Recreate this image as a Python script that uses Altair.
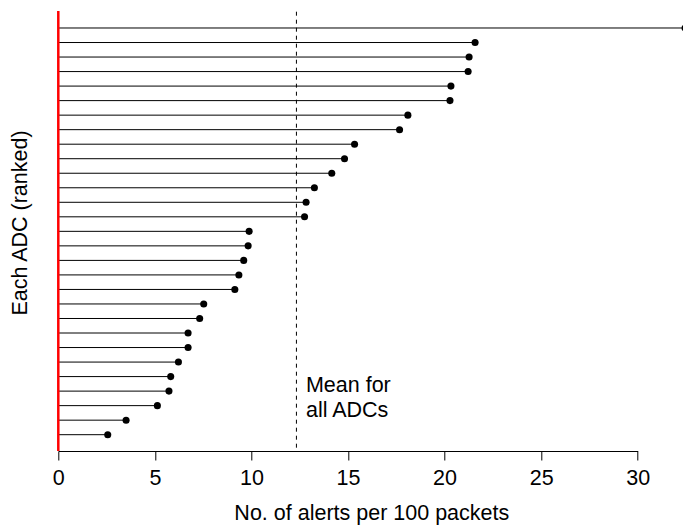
import altair as alt
import pandas as pd

# ---- data ----
ranks = list(range(1, 30))
alerts = [32.45, 21.58, 21.27, 21.22, 20.33, 20.28, 18.10, 17.67, 15.34, 14.82,
          14.16, 13.26, 12.83, 12.75, 9.88, 9.83, 9.60, 9.35, 9.14, 7.53,
          7.32, 6.72, 6.72, 6.22, 5.82, 5.73, 5.13, 3.51, 2.56]
mean_value = 12.33
x_ticks = [0, 5, 10, 15, 20, 25, 30]
x_title = "No. of alerts per 100 packets"
y_title = "Each ADC (ranked)"
mean_label = ["Mean for", "all ADCs"]

df = pd.DataFrame({"rank": ranks, "alerts": alerts, "start": [0.0] * len(ranks)})

FONT = "Liberation Sans"
FS = 21.5
W = 579.4
H = 440

xscale = alt.Scale(domain=[0, 30], nice=False, zero=False)
yscale = alt.Scale(domain=[-0.17, 30.123], reverse=True, nice=False, zero=False)

xaxis = alt.Axis(values=x_ticks, format="d", tickSize=9, tickColor="black",
                 domainColor="black", labelFontSize=FS, labelFont=FONT,
                 labelColor="black", labelPadding=7, labelFlush=False,
                 labelOverlap=False, grid=False, title=x_title,
                 titleFontSize=FS, titleFont=FONT, titleFontWeight="normal",
                 titleColor="black", titleX=313, titleY=62.5,
                 titleBaseline="middle")
yaxis = alt.Axis(domain=False, ticks=False, labels=False, grid=False,
                 title=y_title, titleFontSize=FS, titleFont=FONT,
                 titleFontWeight="normal", titleColor="black", titleX=-37.5,
                 titleY=211.5, titleBaseline="middle", titleAngle=270)

base = alt.Chart(df)
stems = base.mark_rule(color="black", strokeWidth=1).encode(
    x=alt.X("start:Q", scale=xscale, axis=xaxis),
    x2="alerts:Q",
    y=alt.Y("rank:Q", scale=yscale, axis=yaxis),
)
dots = base.mark_circle(color="black", opacity=1, size=50).encode(
    x=alt.X("alerts:Q", scale=xscale),
    y=alt.Y("rank:Q", scale=yscale),
)
zero_line = alt.Chart(pd.DataFrame({"z": [0]})).mark_rule(
    color="red", strokeWidth=2.5).encode(
    x=alt.X("z:Q", scale=xscale), y=alt.value(0), y2=alt.value(H))
mean_line = alt.Chart(pd.DataFrame({"m": [mean_value]})).mark_rule(
    color="black", strokeWidth=1, strokeDash=[4, 4]).encode(
    x=alt.X("m:Q", scale=xscale), y=alt.value(0.7), y2=alt.value(H))
mean_text = alt.Chart(pd.DataFrame({"m": [mean_value]})).mark_text(
    align="left", baseline="middle", font=FONT, fontSize=FS, lineHeight=24.5,
    dx=9.5, color="black").encode(
    x=alt.X("m:Q", scale=xscale), y=alt.value(375),
    text=alt.value(mean_label))

chart = alt.layer(stems, zero_line, mean_line, dots, mean_text).properties(
    width=W, height=H, autosize="none",
    padding={"left": 58.3, "top": 11, "right": 683 - 58.3 - W, "bottom": 527 - 11 - H},
    background="white",
).configure_view(stroke=None)

chart.save("out.html", embed_options={"renderer": "svg", "actions": False})
